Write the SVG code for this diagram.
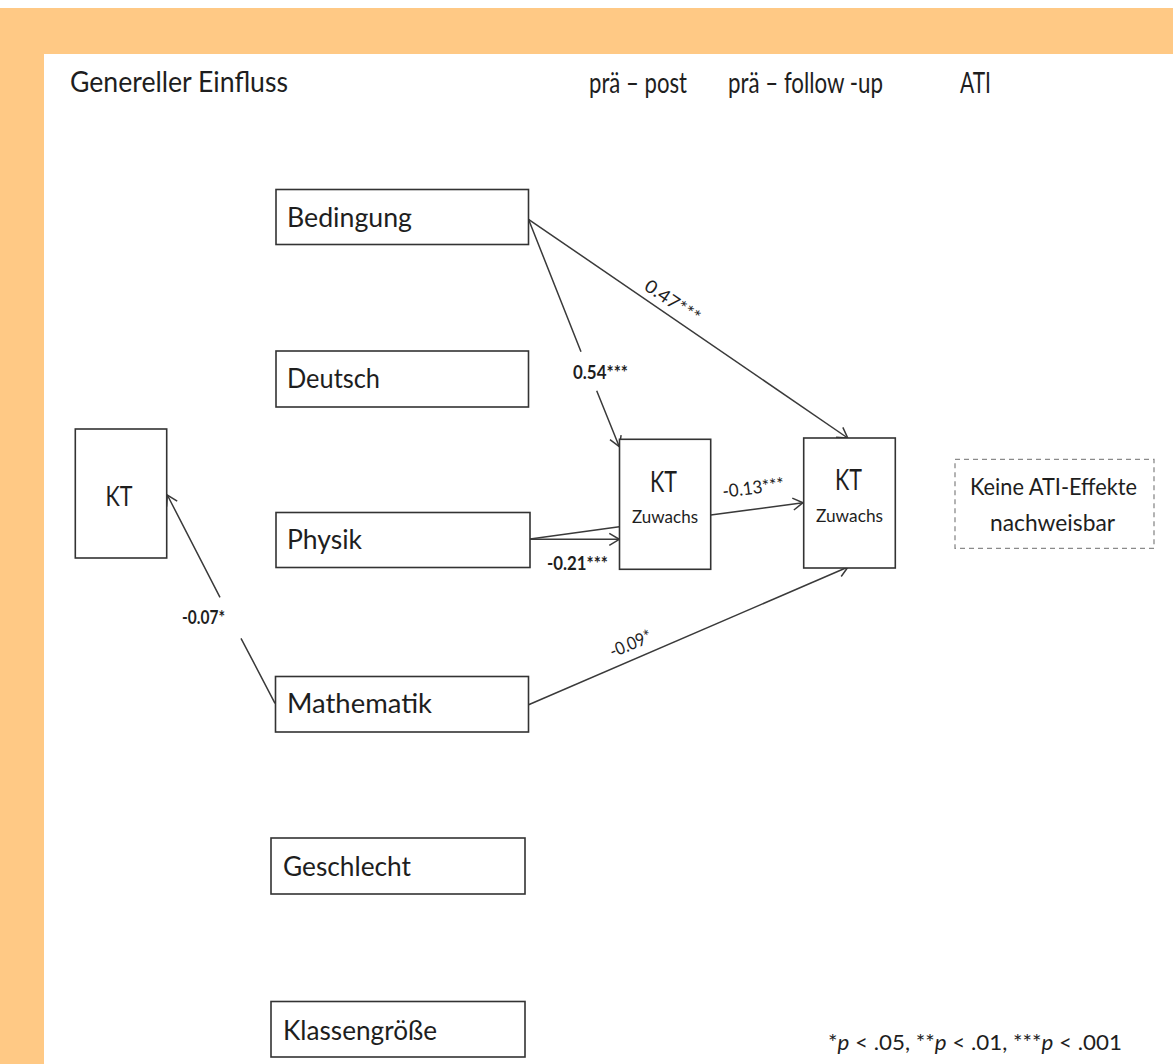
<svg xmlns="http://www.w3.org/2000/svg" width="1173" height="1064" viewBox="0 0 1173 1064">
<defs>
<style>
text{font-family:Lato,"Open Sans","Liberation Sans",sans-serif;fill:#1e1e1e}
.box{fill:#fff;stroke:#333;stroke-width:1.6}
.dash{fill:#fff;stroke:#8a8a8a;stroke-width:1.3;stroke-dasharray:5 4}
.head{font-size:29px}
.lbl{font-size:26px}
.kt{font-size:28px;text-anchor:middle}
.zw{font-size:18px;text-anchor:middle}
.edge{fill:none;stroke:#3a3a3a;stroke-width:1.5}
.el{font-size:18px}
.b{font-weight:bold}
</style>
<marker id="arr" markerUnits="userSpaceOnUse" viewBox="0 0 12 14" markerWidth="12" markerHeight="14" refX="11" refY="7" orient="auto">
<path d="M1,1 L11,7 L1,13" fill="none" stroke="#3a3a3a" stroke-width="1.5"/>
</marker>
</defs>
<rect x="0" y="0" width="1173" height="1064" fill="#fff"/>
<rect x="0" y="8" width="1173" height="46" fill="#FFC985"/>
<rect x="0" y="8" width="44" height="1056" fill="#FFC985"/>

<g id="headers">
<text class="head" x="70" y="92" textLength="218" lengthAdjust="spacingAndGlyphs">Genereller Einfluss</text>
<text class="head" x="589" y="93" textLength="98" lengthAdjust="spacingAndGlyphs">prä – post</text>
<text class="head" x="728" y="93" textLength="155" lengthAdjust="spacingAndGlyphs">prä – follow -up</text>
<text class="head" x="960" y="93" textLength="31" lengthAdjust="spacingAndGlyphs">ATI</text>
</g>

<g id="connectors">
<path class="edge" d="M528.5,219.3 L847.7,438" marker-end="url(#arr)"/>
<path class="edge" d="M528.5,219.3 L581,351.7 M596.7,390.7 L619.3,446.7" marker-end="url(#arr)"/>
<path class="edge" d="M528.3,539.3 L619.3,526.7"/>
<path class="edge" d="M528.3,539.3 L619.3,539.3" marker-end="url(#arr)"/>
<path class="edge" d="M710.7,515 L803,502.7" marker-end="url(#arr)"/>
<path class="edge" d="M528,705 L848,567" marker-end="url(#arr)"/>
<path class="edge" d="M275,703.3 L241,638.3 M220,597.3 L167.3,495" marker-end="url(#arr)"/>
<text class="el" x="669" y="306.5" text-anchor="middle" transform="rotate(34 669 306.5)" textLength="63" lengthAdjust="spacingAndGlyphs">0.47***</text>
<text class="el b" x="573" y="379" textLength="55" lengthAdjust="spacingAndGlyphs">0.54***</text>
<text class="el b" x="547" y="570" textLength="61" lengthAdjust="spacingAndGlyphs">-0.21***</text>
<text class="el" x="754" y="494" text-anchor="middle" transform="rotate(-7 754 494)" textLength="62" lengthAdjust="spacingAndGlyphs">-0.13***</text>
<text class="el" x="633" y="649.5" text-anchor="middle" transform="rotate(-23 633 649.5)" textLength="44" lengthAdjust="spacingAndGlyphs">-0.09*</text>
<text class="el b" x="182" y="624" textLength="43" lengthAdjust="spacingAndGlyphs">-0.07*</text>
</g>

<g id="n-bedingung">
<rect class="box" x="276" y="189.5" width="252.5" height="55"/>
<text class="lbl" x="287" y="226.7" textLength="125" lengthAdjust="spacingAndGlyphs">Bedingung</text>
</g>
<g id="n-deutsch">
<rect class="box" x="276" y="351" width="252.5" height="56"/>
<text class="lbl" x="287" y="388.3" textLength="93" lengthAdjust="spacingAndGlyphs">Deutsch</text>
</g>
<g id="n-physik">
<rect class="box" x="276" y="512.5" width="254" height="55"/>
<text class="lbl" x="287" y="549.3" textLength="75" lengthAdjust="spacingAndGlyphs">Physik</text>
</g>
<g id="n-mathematik">
<rect class="box" x="275.5" y="676.5" width="253" height="55.5"/>
<text class="lbl" x="287" y="712.7" textLength="145" lengthAdjust="spacingAndGlyphs">Mathematik</text>
</g>
<g id="n-geschlecht">
<rect class="box" x="271" y="838" width="254" height="56"/>
<text class="lbl" x="283" y="876" textLength="128" lengthAdjust="spacingAndGlyphs">Geschlecht</text>
</g>
<g id="n-klassengroesse">
<rect class="box" x="271" y="1001.5" width="254" height="55.5"/>
<text class="lbl" x="283" y="1040" textLength="154" lengthAdjust="spacingAndGlyphs">Klassengröße</text>
</g>
<g id="n-kt">
<rect class="box" x="75.3" y="429" width="91.4" height="129"/>
<text x="119" y="506" font-size="26" text-anchor="middle" textLength="27" lengthAdjust="spacingAndGlyphs">KT</text>
</g>
<g id="n-kt-zuwachs-post">
<rect class="box" x="619.5" y="439.3" width="91.2" height="130"/>
<text class="kt" x="663.5" y="491.7" textLength="27" lengthAdjust="spacingAndGlyphs">KT</text>
<text class="zw" x="665" y="523.3" textLength="66" lengthAdjust="spacingAndGlyphs">Zuwachs</text>
</g>
<g id="n-kt-zuwachs-follow">
<rect class="box" x="803.7" y="438" width="91.6" height="130"/>
<text class="kt" x="848.5" y="490" textLength="27" lengthAdjust="spacingAndGlyphs">KT</text>
<text class="zw" x="849.5" y="522" textLength="67" lengthAdjust="spacingAndGlyphs">Zuwachs</text>
</g>
<g id="n-ati">
<rect class="dash" x="955" y="459.3" width="199" height="89"/>
<text x="1053.5" y="495" font-size="24" text-anchor="middle" textLength="167" lengthAdjust="spacingAndGlyphs">Keine ATI-Effekte</text>
<text x="1052.5" y="531" font-size="24" text-anchor="middle" textLength="125" lengthAdjust="spacingAndGlyphs">nachweisbar</text>
</g>

<g id="legend">
<text x="828" y="1050" font-size="21" textLength="294" lengthAdjust="spacingAndGlyphs">*<tspan font-style="italic">p</tspan> &lt; .05, **<tspan font-style="italic">p</tspan> &lt; .01,  ***<tspan font-style="italic">p</tspan> &lt; .001</text>
</g>
</svg>
